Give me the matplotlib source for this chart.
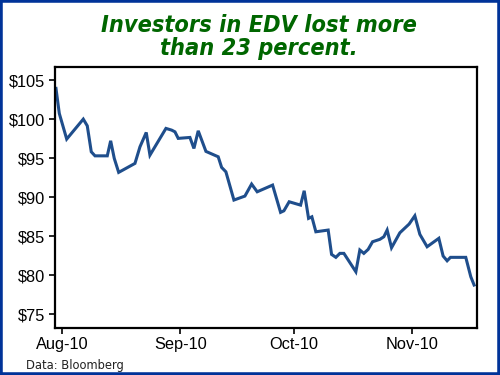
import numpy as np
import matplotlib.pyplot as plt
from matplotlib.patches import Rectangle

# days since Aug 1 2010, EDV price
day = [-1.66, -0.79, 1.16, 5.52, 6.57, 7.62, 8.6, 11.83, 12.72, 13.67,
       14.83, 19.11, 20.43, 22.08, 23.05, 27.26, 28.76, 29.63, 30.49, 33.57,
       34.62, 35.75, 37.78, 41.01, 41.9, 43.03, 45.14, 48.03, 49.79, 51.26,
       55.31, 57.41, 58.28, 59.67, 62.67, 63.62, 64.77, 65.64, 66.69, 69.93,
       70.82, 71.95, 73.0, 74.06, 77.21, 78.26, 79.31, 80.44, 81.6, 83.52,
       84.57, 85.44, 86.59, 88.78, 91.22, 92.72, 94.04, 95.95, 99.03, 100.16,
       101.21, 102.1, 106.12, 107.44, 108.31]
price = [103.94, 100.73, 97.44, 100.0, 99.14, 95.81, 95.29, 95.29, 97.22, 94.96,
         93.17, 94.32, 96.45, 98.29, 95.38, 98.81, 98.59, 98.37, 97.53, 97.65,
         96.24, 98.5, 95.86, 95.17, 93.81, 93.24, 89.62, 90.13, 91.67, 90.68,
         91.54, 88.04, 88.24, 89.4, 88.97, 90.81, 87.27, 87.47, 85.55, 85.77,
         82.65, 82.27, 82.78, 82.78, 80.42, 83.21, 82.78, 83.29, 84.27, 84.58,
         84.91, 85.77, 83.5, 85.42, 86.54, 87.6, 85.22, 83.63, 84.71, 82.44,
         81.83, 82.27, 82.27, 79.78, 78.72]

month_pos = [0, 31, 61, 92]
month_lbl = ['Aug-10', 'Sep-10', 'Oct-10', 'Nov-10']
yticks = [75, 80, 85, 90, 95, 100, 105]

fig = plt.figure(figsize=(5, 3.75), dpi=100)
ax = fig.add_axes([0.109, 0.126, 0.844, 0.695])
ax.plot(day, price, color='#1f4e8c', lw=2.2, solid_joinstyle='miter')
ax.set_xlim(-2.05, 108.94)
ax.set_ylim(73.24, 106.67)
ax.set_xticks(month_pos)
ax.set_xticklabels(month_lbl)
ax.set_yticks(yticks)
ax.set_yticklabels(['$%d' % v for v in yticks])
for s in ax.spines.values():
    s.set_linewidth(1.6)
ax.tick_params(direction='out', length=4, width=1.2, labelsize=11.8, pad=2.5)
for lbl in ax.get_xticklabels() + ax.get_yticklabels():
    lbl.set_family('Liberation Sans')

# condensed bold oblique headline, centred over the plot area
fig.text(0.518, 0.902, 'Investors in EDV lost more\nthan 23 percent.', ha='center', va='center',
         color='#006600', fontsize=16.8, fontweight='bold', fontstyle='italic',
         fontstretch='condensed', family='DejaVu Sans', linespacing=1.02)
fig.text(0.051, 0.024, 'Data: Bloomberg', fontsize=8.3, color='#222222', va='center')

fig.patches.append(Rectangle((0, 0), 1, 1, transform=fig.transFigure, fill=False,
                             edgecolor='#003399', lw=4))

fig.savefig('out.png', dpi=100)
